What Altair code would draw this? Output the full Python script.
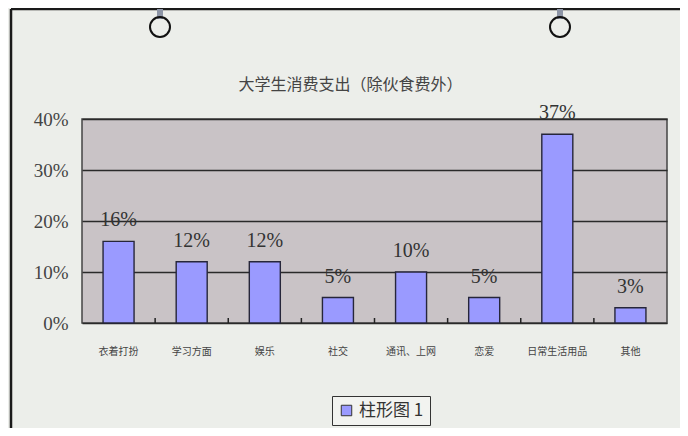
import altair as alt
import pandas as pd

categories = ["衣着打扮", "学习方面", "娱乐", "社交", "通讯、上网", "恋爱", "日常生活用品", "其他"]
values = [16, 12, 12, 5, 10, 5, 37, 3]
series_name = "柱形图 1"
y_ticks = [0, 10, 20, 30, 40]
title_text = "大学生消费支出（除伙食费外）"

df = pd.DataFrame({"cat": categories, "val": values, "series": [series_name] * len(categories)})
df["label"] = [f"{v}%" for v in values]
tick_df = pd.DataFrame({"cat": categories[1:]})

W, H = 585, 204
PAD_INNER = 0.576
x_scale = alt.Scale(domain=categories, paddingInner=PAD_INNER, paddingOuter=PAD_INNER / 2)
y_scale = alt.Scale(domain=[0, 40], nice=False)
step = W / len(categories)

base = alt.Chart(df)

bars = base.mark_bar(stroke="#26263a", strokeWidth=1.4).encode(
    x=alt.X("cat:N", scale=x_scale, sort=categories, title=None,
            axis=alt.Axis(labelAngle=0, labelFont="Noto Sans CJK SC", labelFontSize=10,
                          labelColor="#444", labelPadding=23, ticks=False, domain=False,
                          grid=False)),
    y=alt.Y("val:Q", scale=y_scale, title=None,
            axis=alt.Axis(values=y_ticks, labelExpr="datum.value + '%'",
                          labelFont="Liberation Serif", labelFontSize=19, labelColor="#444",
                          labelPadding=14, ticks=False, domain=False,
                          grid=True, gridColor="#2a2a2a", gridWidth=1.3, gridOpacity=1)),
    color=alt.Color("series:N", scale=alt.Scale(range=["#9a9aff"]), title=None,
                    legend=alt.Legend(orient="none", legendX=250, legendY=277,
                                      fillColor="#f2f3f0", strokeColor="#333", padding=6,
                                      symbolType="square", symbolSize=110,
                                      symbolStrokeColor="#333", symbolStrokeWidth=1,
                                      labelFont="Noto Sans CJK SC", labelFontSize=17,
                                      labelColor="#333")),
)

labels = base.mark_text(font="Liberation Serif", fontSize=20, color="#333",
                        baseline="bottom", dy=-11).encode(
    x=alt.X("cat:N", scale=x_scale, sort=categories),
    y=alt.Y("val:Q", scale=y_scale),
    text="label:N",
)

tick_marks = alt.Chart(tick_df).mark_rule(color="#222", strokeWidth=1.5,
                                          xOffset=-PAD_INNER * step / 2).encode(
    x=alt.X("cat:N", scale=x_scale, sort=categories, bandPosition=0),
    y=alt.value(H - 5), y2=alt.value(H),
)

one = pd.DataFrame({"t": [title_text]})
title_mark = alt.Chart(one).mark_text(font="Noto Sans CJK SC", fontSize=16, color="#444",
                                      baseline="middle", align="center").encode(
    x=alt.value(W / 2 - 24), y=alt.value(-34), text="t:N")
frame_top = alt.Chart(one).mark_rule(color="#1a1a1a", strokeWidth=2.5).encode(
    x=alt.value(-71), x2=alt.value(620), y=alt.value(-110))
frame_left = alt.Chart(one).mark_rule(color="#1a1a1a", strokeWidth=2.5).encode(
    x=alt.value(-71), y=alt.value(-110), y2=alt.value(330))
rods = alt.Chart(one).mark_rule(color="#8d95a6", strokeWidth=6).encode(
    x=alt.value(78), y=alt.value(-110), y2=alt.value(-100))
rods2 = alt.Chart(one).mark_rule(color="#8d95a6", strokeWidth=6).encode(
    x=alt.value(478), y=alt.value(-110), y2=alt.value(-100))
ring1 = alt.Chart(one).mark_point(shape="circle", size=400, filled=False,
                                  color="#111", strokeWidth=2, opacity=1).encode(
    x=alt.value(78), y=alt.value(-92))
ring2 = alt.Chart(one).mark_point(shape="circle", size=400, filled=False,
                                  color="#111", strokeWidth=2, opacity=1).encode(
    x=alt.value(478), y=alt.value(-92))

chart = alt.layer(bars, labels, tick_marks, title_mark, frame_top, frame_left,
                  rods, rods2, ring1, ring2).properties(
    width=W, height=H,
    autosize=alt.AutoSizeParams(type="none"),
    padding={"left": 74, "top": 111, "right": 13, "bottom": 105},
    background="#eceeea",
).configure_view(fill="#c9c3c6", stroke="#444", strokeWidth=1.5)

chart.save("out.html", embed_options={"renderer": "svg", "actions": False})
